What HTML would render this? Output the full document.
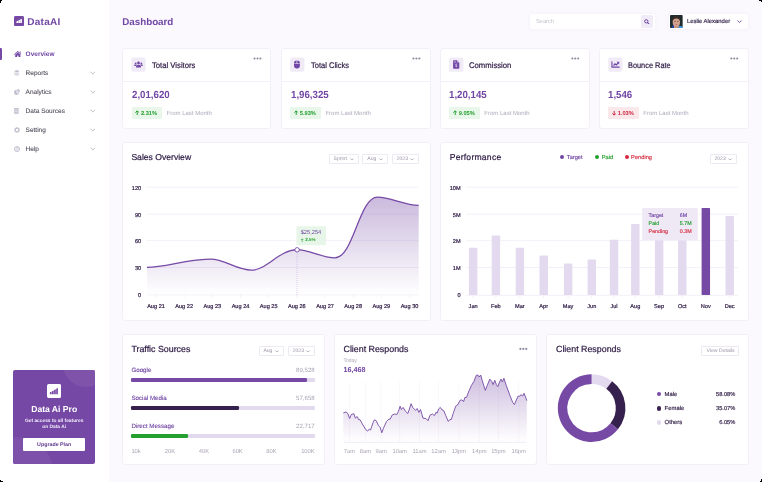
<!DOCTYPE html>
<html>
<head>
<meta charset="utf-8">
<title>DataAI Dashboard</title>
<style>
*{box-sizing:border-box;margin:0;padding:0}
html,body{width:762px;height:482px;overflow:hidden;background:#000}
body{font-family:"Liberation Sans",sans-serif;position:relative;color:#2b1842;text-rendering:geometricPrecision}
#app{position:absolute;left:0;top:0;width:762px;height:482px;background:#fbf9fe;overflow:hidden;will-change:transform}
.abs{position:absolute}
.t{position:absolute;white-space:nowrap;line-height:1}
#side{position:absolute;left:0;top:0;width:109px;height:482px;background:#fff}
.card{position:absolute;background:#fff;border:1px solid #f3eff9;border-radius:3px}
.mi{position:absolute;left:25.600px;font-size:6.500px;color:#514b5b;white-space:nowrap;line-height:1;-webkit-text-stroke:0.080px #514b5b}
.chev{position:absolute;left:89.5px;width:6px;height:4px}
.dd{position:absolute;height:9.500px;border:1px solid #ede9f3;border-radius:1px;background:#fff;font-size:5.100px;color:#9c95a8;line-height:7.5px;white-space:nowrap}
.dd span{position:absolute;left:3.900px;top:.9px}
.dd svg{position:absolute;right:3.900px;top:2.700px;width:3.900px;height:2.600px}
.ctitle{position:absolute;font-size:8.600px;color:#2b1842;white-space:nowrap;line-height:1;-webkit-text-stroke:0.2px #2b1842}
.stitle{position:absolute;font-size:8.100px;color:#2b1842;white-space:nowrap;line-height:1;-webkit-text-stroke:0.2px #2b1842}
.num{position:absolute;font-size:10.3px;font-weight:700;color:#7146a5;white-space:nowrap;line-height:1;transform:scaleX(.94);transform-origin:0 0}
.badge{position:absolute;height:12px;border-radius:1.200px;font-size:5.700px;font-weight:700;line-height:12px;white-space:nowrap}
.g{background:#e9f6ea;color:#23a02e}
.r{background:#fbe8eb;color:#cf2840}
.flm{position:absolute;font-size:6px;color:#b0a9bb;white-space:nowrap;line-height:1}
.ibox{position:absolute;width:14.300px;height:14.200px;border-radius:2px;background:#f0ebf7}
.dots{position:absolute;width:8px;height:2px}
.dots i{position:absolute;top:0;width:1.900px;height:1.900px;border-radius:50%;background:#9d96aa}
.ax{position:absolute;font-size:5.600px;color:#2b1842;white-space:nowrap;line-height:1;-webkit-text-stroke:0.180px #2b1842}
.axg{position:absolute;font-size:5.800px;color:#aaa4b4;white-space:nowrap;line-height:1}
</style>
</head>
<body>
<div id="app">

<!-- SIDEBAR -->
<div id="side">
  <svg class="abs" style="left:13.500px;top:16.100px" width="10" height="10.300" viewBox="0 0 10 10.300"><rect width="10" height="10.300" rx="1.500" fill="#7649a5"/><path d="M2.400 6.950V5.500l1.600-.7v2.150zM4.300 6.950V4.600l1.600-.8v3.150zM6.200 6.950V3.600l1.700-.8v4.150z" fill="#fff"/></svg>
  <div class="t" style="left:27.200px;top:18px;font-size:10px;font-weight:700;color:#7146a5;letter-spacing:.3px">DataAI</div>

  <div class="abs" style="left:0;top:47.8px;width:2px;height:12px;background:#7649a5;border-radius:0 1.2px 1.2px 0"></div>
  <!-- home icon -->
  <svg class="abs" style="left:13.700px;top:50.600px" width="7.600" height="6.300" viewBox="0 0 7.600 6.300" fill="#7146a5"><path d="M3.800 0L7.600 3.150l-.5.600L3.800 1 .5 3.750 0 3.150z"/><path d="M1.200 3.700L3.800 1.500l2.600 2.200v2.600H4.500V4.400H3.100v1.900H1.200z"/><path d="M5.600.4h1v1.650l-1-.85z"/></svg>
  <div class="mi" style="top:52px;color:#7146a5;font-weight:700;-webkit-text-stroke:0">Overview</div>

  <div class="mi" style="top:71px">Reports</div>
  <div class="mi" style="top:90px">Analytics</div>
  <div class="mi" style="top:109px">Data Sources</div>
  <div class="mi" style="top:128px">Setting</div>
  <div class="mi" style="top:147px">Help</div>

  <!-- menu icons (light gray) -->
  <svg class="abs" style="left:13.700px;top:70px" width="5.800" height="5.800" viewBox="0 0 5.800 5.800"><path d="M2.900 0L5.800 1.300 2.900 2.600 0 1.300z" fill="#c3becd"/><path d="M.3 2.700l2.600 1.150 2.600-1.150M.3 4.200l2.600 1.150 2.600-1.150" fill="none" stroke="#c3becd" stroke-width=".85"/></svg>
  <svg class="abs" style="left:13.700px;top:88.800px" width="6" height="6" viewBox="0 0 6 6"><path d="M2.600.7A2.650 2.650 0 1 0 5.300 3.500H2.600z" fill="#c3becd"/><path d="M3.300 0v2.800H6A2.800 2.800 0 0 0 3.300 0z" fill="#c3becd"/><path d="M2.600 3.500L4.500 5.400" stroke="#fff" stroke-width=".5"/></svg>
  <svg class="abs" style="left:14px;top:108.300px" width="4.800" height="5.700" viewBox="0 0 4.800 5.700"><rect width="4.800" height="5.700" rx=".7" fill="#c3becd"/><path d="M0 1.950h4.800M0 3.800h4.800" stroke="#fff" stroke-width=".55"/></svg>
  <svg class="abs" style="left:13.700px;top:127px" width="6" height="6" viewBox="0 0 6 6"><rect x="2.450" y="-.050" width="1.100" height="6.100" rx=".3" fill="#c3becd" transform="rotate(0 3 3)"/><rect x="2.450" y="-.050" width="1.100" height="6.100" rx=".3" fill="#c3becd" transform="rotate(45 3 3)"/><rect x="2.450" y="-.050" width="1.100" height="6.100" rx=".3" fill="#c3becd" transform="rotate(90 3 3)"/><rect x="2.450" y="-.050" width="1.100" height="6.100" rx=".3" fill="#c3becd" transform="rotate(135 3 3)"/><circle cx="3" cy="3" r="2.300" fill="#c3becd"/><circle cx="3" cy="3" r="1.250" fill="#fff"/></svg>
  <svg class="abs" style="left:13.700px;top:145.900px" width="6" height="6" viewBox="0 0 6 6"><circle cx="3" cy="3" r="2.550" fill="#f4f2f7" stroke="#c3becd" stroke-width=".9"/><path d="M2.200 2.400a.85.850 0 1 1 1.250.75c-.3.200-.450.350-.450.700" fill="none" stroke="#c3becd" stroke-width=".75"/><circle cx="3" cy="4.500" r=".42" fill="#c3becd"/></svg>

  <!-- chevrons -->
  <svg class="chev" style="top:71px" viewBox="0 0 6 4"><path d="M.7.8L2.850 2.950 5 .8" fill="none" stroke="#b4b1b9" stroke-width=".85"/></svg>
  <svg class="chev" style="top:90px" viewBox="0 0 6 4"><path d="M.7.8L2.850 2.950 5 .8" fill="none" stroke="#b4b1b9" stroke-width=".85"/></svg>
  <svg class="chev" style="top:109.1px" viewBox="0 0 6 4"><path d="M.7.8L2.850 2.950 5 .8" fill="none" stroke="#b4b1b9" stroke-width=".85"/></svg>
  <svg class="chev" style="top:128.1px" viewBox="0 0 6 4"><path d="M.7.8L2.850 2.950 5 .8" fill="none" stroke="#b4b1b9" stroke-width=".85"/></svg>
  <svg class="chev" style="top:147.2px" viewBox="0 0 6 4"><path d="M.7.8L2.850 2.950 5 .8" fill="none" stroke="#b4b1b9" stroke-width=".85"/></svg>

  <!-- promo -->
  <div class="abs" style="left:13.400px;top:370px;width:81.600px;height:94.400px;background:#7648a6;border-radius:2px;overflow:hidden">
    <div class="abs" style="left:49.600px;top:-29px;width:46px;height:46px;border-radius:50%;background:#8053ab"></div>
    <div class="abs" style="left:-30.400px;top:67px;width:70px;height:70px;border-radius:50%;background:#7d50a9"></div>
    <svg class="abs" style="left:33.600px;top:13.500px" width="14.100" height="14.100" viewBox="0 0 14.100 14.100"><rect width="14.100" height="14.100" rx="1.800" fill="#fff"/><path d="M2.900 10.200V8.300l1.700-.6v2.500zM5 10.200V7.200l1.700-.7v3.700zM7.100 10.200V6l1.700-.7v4.900zM9.200 10.200V4.800l1.700-.9v6.300z" fill="#7648a6"/></svg>
    <div class="t" style="left:0;width:81.600px;text-align:center;top:35px;font-size:8.600px;font-weight:700;color:#fff">Data Ai Pro</div>
    <div class="t" style="left:0;width:81.600px;text-align:center;top:50.050px;font-size:4.850px;font-weight:700;color:#f3edf9">Get access to all features</div>
    <div class="t" style="left:0;width:81.600px;text-align:center;top:56px;font-size:4.850px;font-weight:700;color:#f3edf9">on Data Ai</div>
    <div class="abs" style="left:9.500px;top:67.850px;width:62.400px;height:12.950px;background:#fff;border-radius:1px"></div>
    <div class="t" style="left:0;width:81.600px;text-align:center;top:73.300px;font-size:5.300px;font-weight:700;color:#5f3990">Upgrade Plan</div>
  </div>
</div>

<!-- HEADER -->
<div class="t" style="left:122.200px;top:18px;font-size:9.800px;font-weight:700;color:#7146a5">Dashboard</div>

<div class="abs" style="left:529.900px;top:13.600px;width:125.100px;height:15.300px;background:#fff;border-radius:2px;box-shadow:0 0 4px rgba(120,90,170,.07)"></div>
<div class="t" style="left:536px;top:20px;font-size:5.700px;color:#c3bdcd">Search</div>
<div class="abs" style="left:640.900px;top:14.900px;width:12.600px;height:12.800px;background:#f0ebf7;border-radius:1.500px"></div>
<svg class="abs" style="left:644.300px;top:18.500px" width="5.800" height="5.800" viewBox="0 0 5.800 5.800"><circle cx="2.300" cy="2.300" r="1.650" fill="none" stroke="#7146a5" stroke-width="1"/><path d="M3.600 3.600L5.300 5.300" stroke="#7146a5" stroke-width="1.100" stroke-linecap="round"/></svg>

<div class="abs" style="left:668.700px;top:13.600px;width:79.800px;height:15.300px;background:#fff;border-radius:2px;box-shadow:0 0 4px rgba(120,90,170,.07)"></div>
<!-- avatar -->
<svg class="abs" style="left:670.200px;top:15px" width="12.800" height="13" viewBox="0 0 12.800 13"><defs><clipPath id="av"><rect width="12.800" height="13" rx=".9"/></clipPath></defs><g clip-path="url(#av)"><rect width="12.800" height="13" fill="#1f2b2c"/><path d="M1.500 13l.3-2.300 2.200-.9V13z" fill="#1d3f93"/><path d="M8.200 13l.2-2.600 4.400 1.100V13z" fill="#3f97dd"/><rect x="4" y="9.300" width="4.600" height="3.700" fill="#c4917e"/><ellipse cx="6.350" cy="6.900" rx="3.700" ry="4.500" fill="#d2a18e"/><path d="M2.700 6.200C2.200 3 3.700.9 6.400.9s4.300 2.100 3.600 5.300C9.600 4.300 8.700 3.500 6.400 3.500S3.100 4.300 2.700 6.200z" fill="#3a2b24"/><ellipse cx="4.900" cy="6.300" rx=".9" ry=".5" fill="#7e5d52"/><ellipse cx="7.800" cy="6.300" rx=".9" ry=".5" fill="#7e5d52"/><ellipse cx="6.300" cy="9.500" rx="1.100" ry=".45" fill="#b9695b"/></g></svg>
<div class="t" style="left:686.900px;top:20px;font-size:5.900px;color:#2b1842;-webkit-text-stroke:.15px #2b1842">Leslie Alexander</div>
<svg class="abs" style="left:737.300px;top:20.200px" width="5" height="3.200" viewBox="0 0 5 3.200"><path d="M.5.500l2 2 2-2" fill="none" stroke="#7146a5" stroke-width=".9"/></svg>

<!-- STAT CARDS -->
<div class="card" style="left:122px;top:48px;width:149px;height:81px"></div>
<div class="abs" style="left:123px;top:81px;width:147px;height:1px;background:#f4f0fa"></div>
<svg class="abs" style="left:131px;top:57px" width="17" height="17" viewBox="0 0 17 17"><rect x="0.30" y=".6" width="14.300" height="14.200" rx="2" fill="#f0ebf7"/><g transform="translate(3.20 4.50)"><g fill="#7146a5"><circle cx="4.3" cy="1.45" r="1.4"/><circle cx="1.45" cy="1.95" r=".9"/><circle cx="7.15" cy="1.95" r=".9"/><path d="M1.8 6.1v-.9c0-1.200.9-2 2-2h1c1.100 0 2 .8 2 2v.9z"/><path d="M0 4.500v-.5c0-.6.400-1 1-1h.9c.3 0 .5.100.7.200-.7.400-1.100 1-1.200 1.300zM8.600 4.500v-.5c0-.6-.400-1-1-1h-.9c-.3 0-.5.100-.7.200.7.400 1.100 1 1.200 1.300z"/></g></g></svg>
<div class="stitle" style="left:151.6px;top:62px;transform:scaleX(0.949);transform-origin:0 0">Total Visitors</div>
<svg class="abs" style="left:252px;top:56px" width="12" height="5" viewBox="0 0 12 5" fill="#8f889d"><circle cx="2.55" cy="2.50" r="1.050"/><circle cx="5.48" cy="2.50" r="1.050"/><circle cx="8.41" cy="2.50" r="1.050"/></svg>
<div class="num" style="left:131.6px;top:91px">2,01,620</div>
<div class="badge g" style="left:131.5px;top:107px;width:30.700px"><svg style="position:absolute;left:3.300px;top:3.400px" width="4.400" height="5" viewBox="0 0 4.400 5"><path d="M2.200 5V1M.4 2.600L2.200.8 4 2.600" fill="none" stroke="#23a02e" stroke-width="1"/></svg><span style="position:absolute;left:9.400px;top:1px">2.31%</span></div>
<div class="flm" style="left:166.5px;top:111px">From Last Month</div>
<div class="card" style="left:281px;top:48px;width:150px;height:81px"></div>
<div class="abs" style="left:282px;top:81px;width:148px;height:1px;background:#f4f0fa"></div>
<svg class="abs" style="left:290px;top:57px" width="17" height="17" viewBox="0 0 17 17"><rect x="0.15" y=".6" width="14.300" height="14.200" rx="2" fill="#f0ebf7"/><g transform="translate(4.00 3.40)"><g fill="#7146a5"><path d="M0 3.050V2.700A2.700 2.700 0 0 1 2.600 0v3.050zM3.300 0a2.700 2.700 0 0 1 2.600 2.700v.350H3.300z"/><path d="M0 3.700h5.900v1.500a2.900 2.900 0 0 1-2.900 2.900h-.1A2.900 2.900 0 0 1 0 5.200z"/></g></g></svg>
<div class="stitle" style="left:310.5px;top:62px;transform:scaleX(0.929);transform-origin:0 0">Total Clicks</div>
<svg class="abs" style="left:411px;top:56px" width="12" height="5" viewBox="0 0 12 5" fill="#8f889d"><circle cx="2.45" cy="2.50" r="1.050"/><circle cx="5.38" cy="2.50" r="1.050"/><circle cx="8.31" cy="2.50" r="1.050"/></svg>
<div class="num" style="left:290.5px;top:91px">1,96,325</div>
<div class="badge g" style="left:290.4px;top:107px;width:30.700px"><svg style="position:absolute;left:3.300px;top:3.400px" width="4.400" height="5" viewBox="0 0 4.400 5"><path d="M2.200 5V1M.4 2.600L2.200.8 4 2.600" fill="none" stroke="#23a02e" stroke-width="1"/></svg><span style="position:absolute;left:9.400px;top:1px">5.93%</span></div>
<div class="flm" style="left:325.4px;top:111px">From Last Month</div>
<div class="card" style="left:440px;top:48px;width:150px;height:81px"></div>
<div class="abs" style="left:441px;top:81px;width:148px;height:1px;background:#f4f0fa"></div>
<svg class="abs" style="left:449px;top:57px" width="17" height="17" viewBox="0 0 17 17"><rect x="0.10" y=".6" width="14.300" height="14.200" rx="2" fill="#f0ebf7"/><g transform="translate(4.10 3.20)"><path d="M.8 0h3.100l2.300 2.300v5.400a.8.8 0 0 1-.8.8H.8a.8.8 0 0 1-.8-.8V.8A.8.8 0 0 1 .8 0z" fill="#7146a5"/><path d="M3.900 0v1.700a.6.600 0 0 0 .6.600h1.700z" fill="#c9b5e3"/><path d="M1.100 1.300h1.500M1.100 2.300h1.500" stroke="#e9e0f4" stroke-width=".5"/><path d="M4 4.400c-.4-.5-1.700-.5-1.700.2 0 .9 1.800.4 1.800 1.300 0 .7-1.400.7-1.900.1M3.200 3.500v.6M3.200 6.300v.6" stroke="#efe9f6" stroke-width=".6" fill="none"/></g></svg>
<div class="stitle" style="left:469.4px;top:62px;transform:scaleX(0.952);transform-origin:0 0">Commission</div>
<svg class="abs" style="left:570px;top:56px" width="12" height="5" viewBox="0 0 12 5" fill="#8f889d"><circle cx="2.35" cy="2.50" r="1.050"/><circle cx="5.28" cy="2.50" r="1.050"/><circle cx="8.21" cy="2.50" r="1.050"/></svg>
<div class="num" style="left:449.4px;top:91px">1,20,145</div>
<div class="badge g" style="left:449.3px;top:107px;width:30.700px"><svg style="position:absolute;left:3.300px;top:3.400px" width="4.400" height="5" viewBox="0 0 4.400 5"><path d="M2.200 5V1M.4 2.600L2.200.8 4 2.600" fill="none" stroke="#23a02e" stroke-width="1"/></svg><span style="position:absolute;left:9.400px;top:1px">9.05%</span></div>
<div class="flm" style="left:484.3px;top:111px">From Last Month</div>
<div class="card" style="left:599px;top:48px;width:150px;height:81px"></div>
<div class="abs" style="left:600px;top:81px;width:148px;height:1px;background:#f4f0fa"></div>
<svg class="abs" style="left:608px;top:57px" width="17" height="17" viewBox="0 0 17 17"><rect x="0.20" y=".6" width="14.300" height="14.200" rx="2" fill="#f0ebf7"/><g transform="translate(3.40 4.50)"><g fill="none" stroke="#7146a5"><path d="M.55 0v5.650h7.750" stroke-width="1.100"/><path d="M2.100 4.100l1.500-1.700 1.300 1.100 1.900-2" stroke-width="1.250"/></g><path d="M5.200.3h2.600v2.600z" fill="#7146a5"/></g></svg>
<div class="stitle" style="left:628.4px;top:62px;transform:scaleX(0.911);transform-origin:0 0">Bounce Rate</div>
<svg class="abs" style="left:729px;top:56px" width="12" height="5" viewBox="0 0 12 5" fill="#8f889d"><circle cx="2.35" cy="2.50" r="1.050"/><circle cx="5.28" cy="2.50" r="1.050"/><circle cx="8.21" cy="2.50" r="1.050"/></svg>
<div class="num" style="left:608.4px;top:91px">1,546</div>
<div class="badge r" style="left:608.3px;top:107px;width:30.700px"><svg style="position:absolute;left:3.300px;top:3.600px" width="4.400" height="5" viewBox="0 0 4.400 5"><path d="M2.200 0v4M.4 2.400L2.200 4.200 4 2.400" fill="none" stroke="#cf2840" stroke-width="1"/></svg><span style="position:absolute;left:9.400px;top:1px">1.03%</span></div>
<div class="flm" style="left:643.3px;top:111px">From Last Month</div>
<!-- SALES OVERVIEW -->
<div class="card" style="left:122px;top:142px;width:309px;height:179px"></div>
<div class="ctitle" style="left:131.400px;top:153.3px">Sales Overview</div>
<div class="dd" style="left:328.6px;top:154.2px;width:30px"><span>Sprint</span><svg viewBox="0 0 3.600 2.400"><path d="M.4.500l1.400 1.400L3.200.500" fill="none" stroke="#8f889c" stroke-width=".6"/></svg></div>
<div class="dd" style="left:362.4px;top:154.2px;width:25.4px"><span>Aug</span><svg viewBox="0 0 3.600 2.400"><path d="M.4.500l1.400 1.400L3.200.500" fill="none" stroke="#8f889c" stroke-width=".6"/></svg></div>
<div class="dd" style="left:391.8px;top:154.2px;width:27px"><span>2023</span><svg viewBox="0 0 3.600 2.400"><path d="M.4.500l1.400 1.400L3.200.500" fill="none" stroke="#8f889c" stroke-width=".6"/></svg></div>
<svg class="abs" style="left:0;top:0" width="762" height="482" viewBox="0 0 762 482">
<defs><linearGradient id="sg" x1="0" y1="197" x2="0" y2="295" gradientUnits="userSpaceOnUse"><stop offset="0" stop-color="#7649a5" stop-opacity=".38"/><stop offset="1" stop-color="#7649a5" stop-opacity="0"/></linearGradient></defs>
<path d="M147 187.2H418.700" stroke="#f1ecf8" stroke-width=".8"/><path d="M147 214.2H418.700" stroke="#f1ecf8" stroke-width=".8"/><path d="M147 240.6H418.700" stroke="#f1ecf8" stroke-width=".8"/><path d="M147 267.5H418.700" stroke="#f1ecf8" stroke-width=".8"/><path d="M147 294.9H418.700" stroke="#f1ecf8" stroke-width=".8"/><path d="M156.00 294.900v2.300" stroke="#ece6f4" stroke-width=".7"/><path d="M184.17 294.900v2.300" stroke="#ece6f4" stroke-width=".7"/><path d="M212.34 294.900v2.300" stroke="#ece6f4" stroke-width=".7"/><path d="M240.51 294.900v2.300" stroke="#ece6f4" stroke-width=".7"/><path d="M268.68 294.900v2.300" stroke="#ece6f4" stroke-width=".7"/><path d="M296.85 294.900v2.300" stroke="#ece6f4" stroke-width=".7"/><path d="M325.02 294.900v2.300" stroke="#ece6f4" stroke-width=".7"/><path d="M353.19 294.900v2.300" stroke="#ece6f4" stroke-width=".7"/><path d="M381.36 294.900v2.300" stroke="#ece6f4" stroke-width=".7"/><path d="M409.53 294.900v2.300" stroke="#ece6f4" stroke-width=".7"/>
<path d="M147 267.400 C158 267.200 168 264.800 184.300 261.800 C196 259.800 203 259 210.600 259 C225 259 236 270.200 251.600 270.200 C266.500 270.200 279 249.900 297 249.600 C309 249.600 322 257.800 334.900 257.800 C353.500 257.800 359 197.200 377.500 197.200 C391 197.200 404 205.400 418.700 205.400 V294.900 H147 Z" fill="url(#sg)"/>
<path d="M147 267.400 C158 267.200 168 264.800 184.300 261.800 C196 259.800 203 259 210.600 259 C225 259 236 270.200 251.600 270.200 C266.500 270.200 279 249.900 297 249.600 C309 249.600 322 257.800 334.900 257.800 C353.500 257.800 359 197.200 377.500 197.200 C391 197.200 404 205.400 418.700 205.400" fill="none" stroke="#7649a5" stroke-width="1.250"/>
<path d="M297 252v43" stroke="#b9a3da" stroke-width=".5" stroke-dasharray="1 1"/>
<rect x="296.400" y="226.200" width="29.600" height="19" rx=".8" fill="#e8f6e9"/>
<circle cx="297.100" cy="249.800" r="2.200" fill="#fff" stroke="#7649a5" stroke-width=".9"/>
<path d="M302.200 242.100v-3.200M301 240l1.200-1.200 1.200 1.200" fill="none" stroke="#23a02e" stroke-width=".6"/>
</svg>
<div class="t" style="left:300.700px;top:230.500px;font-size:5.700px;color:#7146a5">$25,254</div>
<div class="t" style="left:305.200px;top:238px;font-size:4.500px;font-weight:700;color:#23a02e">2.5%</div>
<div class="ax" style="left:121px;width:20.200px;text-align:right;top:186.6px">120</div>
<div class="ax" style="left:121px;width:20.200px;text-align:right;top:213.6px">90</div>
<div class="ax" style="left:121px;width:20.200px;text-align:right;top:240.0px">60</div>
<div class="ax" style="left:121px;width:20.200px;text-align:right;top:266.9px">30</div>
<div class="ax" style="left:121px;width:20.200px;text-align:right;top:294.3px">0</div>
<div class="ax" style="left:141.00px;width:30px;text-align:center;top:305.3px">Aug 21</div>
<div class="ax" style="left:169.17px;width:30px;text-align:center;top:305.3px">Aug 22</div>
<div class="ax" style="left:197.34px;width:30px;text-align:center;top:305.3px">Aug 23</div>
<div class="ax" style="left:225.51px;width:30px;text-align:center;top:305.3px">Aug 24</div>
<div class="ax" style="left:253.68px;width:30px;text-align:center;top:305.3px">Aug 25</div>
<div class="ax" style="left:281.85px;width:30px;text-align:center;top:305.3px">Aug 26</div>
<div class="ax" style="left:310.02px;width:30px;text-align:center;top:305.3px">Aug 27</div>
<div class="ax" style="left:338.19px;width:30px;text-align:center;top:305.3px">Aug 28</div>
<div class="ax" style="left:366.36px;width:30px;text-align:center;top:305.3px">Aug 29</div>
<div class="ax" style="left:394.53px;width:30px;text-align:center;top:305.3px">Aug 30</div>
<!-- PERFORMANCE -->
<div class="card" style="left:440px;top:142px;width:309px;height:179px"></div>
<div class="ctitle" style="left:449.700px;top:153.3px;letter-spacing:.23px">Performance</div>
<div class="dd" style="left:709.5px;top:154.2px;width:27.3px"><span>2023</span><svg viewBox="0 0 3.600 2.400"><path d="M.4.500l1.400 1.400L3.200.500" fill="none" stroke="#8f889c" stroke-width=".6"/></svg></div>
<div class="abs" style="left:560.2px;top:155px;width:4px;height:4px;border-radius:50%;background:#7146a5"></div>
<div class="t" style="left:566.8px;top:155.600px;font-size:5.700px;color:#7146a5;-webkit-text-stroke:.15px #7146a5">Target</div>
<div class="abs" style="left:595.2px;top:155px;width:4px;height:4px;border-radius:50%;background:#23a02e"></div>
<div class="t" style="left:601.8px;top:155.600px;font-size:5.700px;color:#23a02e;-webkit-text-stroke:.15px #23a02e">Paid</div>
<div class="abs" style="left:624.5px;top:155px;width:4px;height:4px;border-radius:50%;background:#d42a3e"></div>
<div class="t" style="left:631.1px;top:155.600px;font-size:5.700px;color:#d42a3e;-webkit-text-stroke:.15px #d42a3e">Pending</div>
<svg class="abs" style="left:0;top:0" width="762" height="482" viewBox="0 0 762 482"><path d="M466.500 187.2H738.300" stroke="#f1ecf8" stroke-width=".8"/><path d="M466.500 214.2H738.300" stroke="#f1ecf8" stroke-width=".8"/><path d="M466.500 240.6H738.300" stroke="#f1ecf8" stroke-width=".8"/><path d="M466.500 267.5H738.300" stroke="#f1ecf8" stroke-width=".8"/><path d="M466.500 295.400H738.300" stroke="#f1ecf8" stroke-width=".8"/><rect x="468.90" y="247.8" width="8.450" height="47.2" rx=".6" fill="#e4daf0"/><path d="M473.1 295.800v2.200" stroke="#ece6f4" stroke-width=".7"/><rect x="491.70" y="235.6" width="8.450" height="59.4" rx=".6" fill="#e4daf0"/><path d="M495.9 295.800v2.200" stroke="#ece6f4" stroke-width=".7"/><rect x="515.70" y="247.8" width="8.450" height="47.2" rx=".6" fill="#e4daf0"/><path d="M519.9 295.800v2.200" stroke="#ece6f4" stroke-width=".7"/><rect x="539.50" y="255.6" width="8.450" height="39.4" rx=".6" fill="#e4daf0"/><path d="M543.7 295.800v2.200" stroke="#ece6f4" stroke-width=".7"/><rect x="563.90" y="263.4" width="8.450" height="31.6" rx=".6" fill="#e4daf0"/><path d="M568.1 295.800v2.200" stroke="#ece6f4" stroke-width=".7"/><rect x="587.60" y="259.6" width="8.450" height="35.4" rx=".6" fill="#e4daf0"/><path d="M591.8 295.800v2.200" stroke="#ece6f4" stroke-width=".7"/><rect x="609.80" y="239.7" width="8.450" height="55.3" rx=".6" fill="#e4daf0"/><path d="M614.0 295.800v2.200" stroke="#ece6f4" stroke-width=".7"/><rect x="631.10" y="224" width="8.450" height="71.0" rx=".6" fill="#e4daf0"/><path d="M635.3 295.800v2.200" stroke="#ece6f4" stroke-width=".7"/><rect x="654.90" y="232" width="8.450" height="63.0" rx=".6" fill="#e4daf0"/><path d="M659.1 295.800v2.200" stroke="#ece6f4" stroke-width=".7"/><rect x="678.10" y="222" width="8.450" height="73.0" rx=".6" fill="#e4daf0"/><path d="M682.3 295.800v2.200" stroke="#ece6f4" stroke-width=".7"/><rect x="701.60" y="208.1" width="8.450" height="86.9" rx=".6" fill="#7649a5"/><path d="M705.8 295.800v2.200" stroke="#ece6f4" stroke-width=".7"/><rect x="725.50" y="215.9" width="8.450" height="79.1" rx=".6" fill="#e4daf0"/><path d="M729.7 295.800v2.200" stroke="#ece6f4" stroke-width=".7"/>
<rect x="642.200" y="208" width="55.600" height="32.500" rx=".8" fill="#efe9f6"/></svg>
<div class="ax" style="left:441px;width:19.600px;text-align:right;top:186.6px">10M</div>
<div class="ax" style="left:441px;width:19.600px;text-align:right;top:213.6px">5M</div>
<div class="ax" style="left:441px;width:19.600px;text-align:right;top:240.0px">2M</div>
<div class="ax" style="left:441px;width:19.600px;text-align:right;top:266.9px">1M</div>
<div class="ax" style="left:441px;width:19.600px;text-align:right;top:294.3px">0</div>
<div class="ax" style="left:461.1px;width:24px;text-align:center;top:305.3px">Jan</div>
<div class="ax" style="left:483.9px;width:24px;text-align:center;top:305.3px">Feb</div>
<div class="ax" style="left:507.9px;width:24px;text-align:center;top:305.3px">Mar</div>
<div class="ax" style="left:531.7px;width:24px;text-align:center;top:305.3px">Apr</div>
<div class="ax" style="left:556.1px;width:24px;text-align:center;top:305.3px">May</div>
<div class="ax" style="left:579.8px;width:24px;text-align:center;top:305.3px">Jun</div>
<div class="ax" style="left:602.0px;width:24px;text-align:center;top:305.3px">Jul</div>
<div class="ax" style="left:623.3px;width:24px;text-align:center;top:305.3px">Aug</div>
<div class="ax" style="left:647.1px;width:24px;text-align:center;top:305.3px">Sep</div>
<div class="ax" style="left:670.3px;width:24px;text-align:center;top:305.3px">Oct</div>
<div class="ax" style="left:693.8px;width:24px;text-align:center;top:305.3px">Nov</div>
<div class="ax" style="left:717.7px;width:24px;text-align:center;top:305.3px">Dec</div>
<div class="t" style="left:648.600px;top:214.1px;font-size:5.300px;color:#7146a5;-webkit-text-stroke:.15px #7146a5">Target</div>
<div class="t" style="left:679.800px;top:214.1px;font-size:5.300px;color:#7146a5;-webkit-text-stroke:.15px #7146a5">6M</div>
<div class="t" style="left:648.600px;top:222.0px;font-size:5.300px;color:#23a02e;-webkit-text-stroke:.15px #23a02e">Paid</div>
<div class="t" style="left:679.800px;top:222.0px;font-size:5.300px;color:#23a02e;-webkit-text-stroke:.15px #23a02e">5.7M</div>
<div class="t" style="left:648.600px;top:229.9px;font-size:5.300px;color:#d42a3e;-webkit-text-stroke:.15px #d42a3e">Pending</div>
<div class="t" style="left:679.800px;top:229.9px;font-size:5.300px;color:#d42a3e;-webkit-text-stroke:.15px #d42a3e">0.3M</div>

<!-- BOTTOM ROW -->
<div class="card" style="left:122px;top:334px;width:203px;height:131px"></div>
<div class="ctitle" style="left:131.400px;top:344.600px;font-size:8.850px">Traffic Sources</div>
<div class="dd" style="left:258.5px;top:346.3px;width:25.2px"><span>Aug</span><svg viewBox="0 0 3.6 2.4"><path d="M.4.5l1.400 1.400L3.200.5" fill="none" stroke="#8f889c" stroke-width=".6"/></svg></div>
<div class="dd" style="left:287.8px;top:346.3px;width:27px"><span>2023</span><svg viewBox="0 0 3.6 2.4"><path d="M.4.5l1.400 1.400L3.200.5" fill="none" stroke="#8f889c" stroke-width=".6"/></svg></div>
<div class="t" style="left:131.400px;top:368px;font-size:6.200px;color:#7146a5;-webkit-text-stroke:.12px #7146a5">Google</div>
<div class="t" style="left:264.700px;width:50px;text-align:right;top:368px;font-size:6.100px;color:#aaa4b4">89,528</div>
<div class="abs" style="left:131.400px;top:378px;width:183.300px;height:4px;border-radius:1.300px;background:#e4daf0"></div>
<div class="abs" style="left:131.400px;top:378px;width:175.2px;height:4px;border-radius:1.300px;background:#7649a5"></div>
<div class="t" style="left:131.400px;top:396px;font-size:6.200px;color:#7146a5;-webkit-text-stroke:.12px #7146a5">Social Media</div>
<div class="t" style="left:264.700px;width:50px;text-align:right;top:396px;font-size:6.100px;color:#aaa4b4">57,658</div>
<div class="abs" style="left:131.400px;top:406px;width:183.300px;height:4px;border-radius:1.300px;background:#e4daf0"></div>
<div class="abs" style="left:131.400px;top:406px;width:107.6px;height:4px;border-radius:1.300px;background:#36204d"></div>
<div class="t" style="left:131.400px;top:424px;font-size:6.200px;color:#7146a5;-webkit-text-stroke:.12px #7146a5">Direct Message</div>
<div class="t" style="left:264.700px;width:50px;text-align:right;top:424px;font-size:6.100px;color:#aaa4b4">22,717</div>
<div class="abs" style="left:131.400px;top:434px;width:183.300px;height:4px;border-radius:1.300px;background:#e4daf0"></div>
<div class="abs" style="left:131.400px;top:434px;width:56.2px;height:4px;border-radius:1.300px;background:#23a02e"></div>
<div class="axg" style="left:160px;width:20px;text-align:center;top:449.6px">20K</div>
<div class="axg" style="left:194px;width:20px;text-align:center;top:449.6px">40K</div>
<div class="axg" style="left:227.6px;width:20px;text-align:center;top:449.6px">60K</div>
<div class="axg" style="left:261.4px;width:20px;text-align:center;top:449.6px">80K</div>
<div class="axg" style="left:131.400px;top:449.6px">10k</div>
<div class="axg" style="left:284.700px;width:30px;text-align:right;top:449.6px">100K</div>
<div class="card" style="left:334px;top:334px;width:203px;height:131px"></div>
<div class="ctitle" style="left:343.500px;top:344.600px;font-size:8.850px">Client Responds</div>
<svg class="abs" style="left:518px;top:346px" width="12" height="5" viewBox="0 0 12 5" fill="#8f889d"><circle cx="2.40" cy="2.90" r="1.050"/><circle cx="5.33" cy="2.90" r="1.050"/><circle cx="8.26" cy="2.90" r="1.050"/></svg>
<div class="t" style="left:343.500px;top:359px;font-size:5px;color:#aaa4b4">Today</div>
<div class="t" style="left:343.500px;top:366px;font-size:7.200px;font-weight:700;color:#7146a5">16,468</div>
<svg class="abs" style="left:0;top:0" width="762" height="482" viewBox="0 0 762 482">
<defs><linearGradient id="cg" x1="0" y1="375" x2="0" y2="442" gradientUnits="userSpaceOnUse"><stop offset="0" stop-color="#7649a5" stop-opacity=".36"/><stop offset="1" stop-color="#7649a5" stop-opacity="0"/></linearGradient></defs>
<path d="M349.5 381.800V442" stroke="#e9e2f3" stroke-width=".6" stroke-dasharray="1 1"/><path d="M365.4 381.800V442" stroke="#e9e2f3" stroke-width=".6" stroke-dasharray="1 1"/><path d="M381.2 381.800V442" stroke="#e9e2f3" stroke-width=".6" stroke-dasharray="1 1"/><path d="M399.7 381.800V442" stroke="#e9e2f3" stroke-width=".6" stroke-dasharray="1 1"/><path d="M419.5 381.800V442" stroke="#e9e2f3" stroke-width=".6" stroke-dasharray="1 1"/><path d="M438.6 381.800V442" stroke="#e9e2f3" stroke-width=".6" stroke-dasharray="1 1"/><path d="M458.9 381.800V442" stroke="#e9e2f3" stroke-width=".6" stroke-dasharray="1 1"/><path d="M479.3 381.800V442" stroke="#e9e2f3" stroke-width=".6" stroke-dasharray="1 1"/><path d="M498.4 381.800V442" stroke="#e9e2f3" stroke-width=".6" stroke-dasharray="1 1"/><path d="M518.7 381.800V442" stroke="#e9e2f3" stroke-width=".6" stroke-dasharray="1 1"/>
<path d="M343.500 442.300H527" stroke="#ece6f4" stroke-width=".8"/>
<path d="M343.3 412.9 L346.3 411.9 L348.0 414.0 L349.6 418.5 L351.3 414.5 L353.9 413.7 L355.3 418.2 L357.1 416.5 L358.8 419.8 L359.9 419.5 L362.4 424.0 L365.7 429.5 L367.7 431.1 L369.4 429.0 L370.5 430.1 L373.2 422.3 L374.5 419.8 L376.2 420.7 L378.5 425.6 L380.2 427.3 L381.8 432.8 L383.5 428.1 L386.5 421.5 L389.0 419.0 L390.1 419.2 L392.3 414.9 L394.8 414.0 L396.8 414.5 L398.5 411.2 L400.1 406.2 L401.4 409.5 L403.1 407.4 L405.6 411.5 L407.8 413.5 L409.4 409.0 L411.1 403.7 L412.7 407.4 L415.6 410.4 L417.2 408.5 L418.9 412.4 L420.5 409.5 L423.0 418.2 L426.0 418.5 L428.0 420.7 L430.0 415.2 L432.5 414.0 L434.5 415.7 L435.8 412.4 L437.1 413.2 L438.6 409.0 L440.3 407.4 L442.0 409.9 L443.8 410.7 L445.8 415.7 L448.3 421.5 L449.9 419.5 L451.3 419.5 L453.3 413.2 L455.7 406.2 L457.4 405.2 L460.2 400.2 L461.9 399.9 L463.6 401.6 L464.9 397.4 L466.5 397.4 L469.0 390.8 L471.5 385.3 L474.0 381.3 L476.2 375.3 L477.8 375.0 L479.2 377.0 L480.7 375.0 L482.3 380.8 L485.3 390.3 L487.3 385.3 L489.8 379.1 L491.8 381.6 L493.1 384.6 L494.8 380.3 L496.4 384.6 L497.8 386.6 L499.8 381.3 L501.1 379.1 L502.4 382.0 L503.9 378.3 L506.4 385.8 L509.7 394.9 L512.7 402.4 L514.4 404.6 L516.4 399.9 L518.0 396.2 L519.7 396.2 L521.0 394.6 L522.5 396.2 L524.0 393.3 L525.5 396.9 L526.8 400.7 V442.300 H343.300 Z" fill="url(#cg)"/>
<path d="M343.3 412.9 L346.3 411.9 L348.0 414.0 L349.6 418.5 L351.3 414.5 L353.9 413.7 L355.3 418.2 L357.1 416.5 L358.8 419.8 L359.9 419.5 L362.4 424.0 L365.7 429.5 L367.7 431.1 L369.4 429.0 L370.5 430.1 L373.2 422.3 L374.5 419.8 L376.2 420.7 L378.5 425.6 L380.2 427.3 L381.8 432.8 L383.5 428.1 L386.5 421.5 L389.0 419.0 L390.1 419.2 L392.3 414.9 L394.8 414.0 L396.8 414.5 L398.5 411.2 L400.1 406.2 L401.4 409.5 L403.1 407.4 L405.6 411.5 L407.8 413.5 L409.4 409.0 L411.1 403.7 L412.7 407.4 L415.6 410.4 L417.2 408.5 L418.9 412.4 L420.5 409.5 L423.0 418.2 L426.0 418.5 L428.0 420.7 L430.0 415.2 L432.5 414.0 L434.5 415.7 L435.8 412.4 L437.1 413.2 L438.6 409.0 L440.3 407.4 L442.0 409.9 L443.8 410.7 L445.8 415.7 L448.3 421.5 L449.9 419.5 L451.3 419.5 L453.3 413.2 L455.7 406.2 L457.4 405.2 L460.2 400.2 L461.9 399.9 L463.6 401.6 L464.9 397.4 L466.5 397.4 L469.0 390.8 L471.5 385.3 L474.0 381.3 L476.2 375.3 L477.8 375.0 L479.2 377.0 L480.7 375.0 L482.3 380.8 L485.3 390.3 L487.3 385.3 L489.8 379.1 L491.8 381.6 L493.1 384.6 L494.8 380.3 L496.4 384.6 L497.8 386.6 L499.8 381.3 L501.1 379.1 L502.4 382.0 L503.9 378.3 L506.4 385.8 L509.7 394.9 L512.7 402.4 L514.4 404.6 L516.4 399.9 L518.0 396.2 L519.7 396.2 L521.0 394.6 L522.5 396.2 L524.0 393.3 L525.5 396.9 L526.8 400.7" fill="none" stroke="#7649a5" stroke-width=".9" stroke-linejoin="round"/>
</svg>
<div class="axg" style="left:337.5px;width:24px;text-align:center;top:449.7px;font-size:5.800px">7am</div>
<div class="axg" style="left:353.4px;width:24px;text-align:center;top:449.7px;font-size:5.800px">8am</div>
<div class="axg" style="left:369.2px;width:24px;text-align:center;top:449.7px;font-size:5.800px">9am</div>
<div class="axg" style="left:387.7px;width:24px;text-align:center;top:449.7px;font-size:5.800px">10am</div>
<div class="axg" style="left:407.5px;width:24px;text-align:center;top:449.7px;font-size:5.800px">11am</div>
<div class="axg" style="left:426.6px;width:24px;text-align:center;top:449.7px;font-size:5.800px">12am</div>
<div class="axg" style="left:446.9px;width:24px;text-align:center;top:449.7px;font-size:5.800px">13pm</div>
<div class="axg" style="left:467.3px;width:24px;text-align:center;top:449.7px;font-size:5.800px">14pm</div>
<div class="axg" style="left:486.4px;width:24px;text-align:center;top:449.7px;font-size:5.800px">15pm</div>
<div class="axg" style="left:506.7px;width:24px;text-align:center;top:449.7px;font-size:5.800px">16pm</div>
<div class="card" style="left:546px;top:334px;width:203px;height:131px"></div>
<div class="ctitle" style="left:556px;top:344.600px;font-size:8.850px">Client Responds</div>
<div class="dd" style="left:701px;top:346.300px;width:37.800px"><span style="left:4.600px">View Details</span></div>
<svg class="abs" style="left:0;top:0" width="762" height="482" viewBox="0 0 762 482"><path d="M591.60 379.10A29 29 0 0 1 609.21 385.06" fill="none" stroke="#e4daf0" stroke-width="9.600"/><path d="M609.21 385.06A29 29 0 0 1 614.20 426.27" fill="none" stroke="#36204d" stroke-width="9.600"/><path d="M614.20 426.27A29 29 0 1 1 591.60 379.10" fill="none" stroke="#7649a5" stroke-width="9.600"/></svg>
<div class="abs" style="left:656.800px;top:391.8px;width:4.600px;height:4.600px;border-radius:50%;background:#7649a5"></div>
<div class="t" style="left:664.600px;top:393px;font-size:5.900px;color:#2b1842;-webkit-text-stroke:.15px #2b1842">Male</div>
<div class="t" style="left:695px;width:40.300px;text-align:right;top:393px;font-size:5.700px;color:#2b1842;-webkit-text-stroke:.15px #2b1842">58.08%</div>
<div class="abs" style="left:656.800px;top:406.4px;width:4.600px;height:4.600px;border-radius:50%;background:#36204d"></div>
<div class="t" style="left:664.600px;top:406.6px;font-size:5.900px;color:#2b1842;-webkit-text-stroke:.15px #2b1842">Female</div>
<div class="t" style="left:695px;width:40.300px;text-align:right;top:406.6px;font-size:5.700px;color:#2b1842;-webkit-text-stroke:.15px #2b1842">35.07%</div>
<div class="abs" style="left:656.800px;top:420.0px;width:4.600px;height:4.600px;border-radius:50%;background:#e4daf0"></div>
<div class="t" style="left:664.600px;top:421px;font-size:5.900px;color:#2b1842;-webkit-text-stroke:.15px #2b1842">Others</div>
<div class="t" style="left:695px;width:40.300px;text-align:right;top:421px;font-size:5.700px;color:#2b1842;-webkit-text-stroke:.15px #2b1842">6.05%</div>


<!-- corner pixels -->
<div class="abs" style="left:0;top:0;width:2px;height:1px;background:#000"></div><div class="abs" style="left:0;top:1px;width:1px;height:2px;background:#000"></div>
<div class="abs" style="left:759px;top:0;width:3px;height:1px;background:#000"></div><div class="abs" style="left:761px;top:1px;width:1px;height:1px;background:#000"></div>
<div class="abs" style="left:0;top:481px;width:3px;height:1px;background:#000"></div><div class="abs" style="left:0;top:480px;width:1px;height:1px;background:#000"></div>
<div class="abs" style="left:760px;top:481px;width:2px;height:1px;background:#000"></div><div class="abs" style="left:761px;top:479px;width:1px;height:2px;background:#000"></div>

</div>
</body>
</html>
